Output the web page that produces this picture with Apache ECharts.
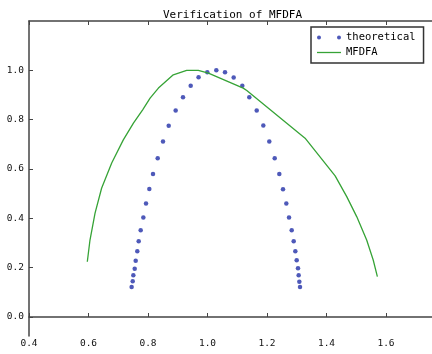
<!DOCTYPE html>
<html>
<head>
<meta charset="utf-8">
<script src="https://cdn.jsdelivr.net/npm/echarts@6/dist/echarts.min.js"></script>
<style>html,body{margin:0;padding:0;background:#fff}#c{width:432px;height:354px}</style>
</head>
<body>
<div id="c"></div>
<script>
const titleText = 'Verification of MFDFA';
const seriesNames = ['theoretical', 'MFDFA'];
const xTicks = [0.4, 0.6, 0.8, 1.0, 1.2, 1.4, 1.6];
const yTicks = [0.0, 0.2, 0.4, 0.6, 0.8, 1.0];

const theoX = [0.745, 0.7486, 0.7507, 0.7553, 0.7586, 0.764, 0.7687, 0.7754, 0.7843, 0.7933, 0.8045, 0.8168, 0.8326, 0.8504, 0.8696, 0.893, 0.9176, 0.9435, 0.970, 0.9993, 1.0296, 1.0588, 1.088, 1.117, 1.1405, 1.1654, 1.1876, 1.2077, 1.2259, 1.2414, 1.2538, 1.2649, 1.274, 1.283, 1.2897, 1.2952, 1.2998, 1.3042, 1.3064, 1.3087, 1.311];
const theoY = [0.1217, 0.1448, 0.169, 0.196, 0.2285, 0.2665, 0.307, 0.3517, 0.403, 0.46, 0.519, 0.58, 0.6438, 0.711, 0.775, 0.837, 0.891, 0.937, 0.9724, 0.9926, 1.0008, 0.9926, 0.971, 0.937, 0.891, 0.837, 0.776, 0.711, 0.644, 0.58, 0.518, 0.46, 0.403, 0.3517, 0.307, 0.2665, 0.23, 0.1975, 0.169, 0.1432, 0.1217];

const mfX = [0.596, 0.605, 0.622, 0.644, 0.678, 0.717, 0.751, 0.782, 0.807, 0.835, 0.885, 0.930, 0.969, 1.003, 1.12, 1.132, 1.328, 1.429, 1.468, 1.5015, 1.535, 1.557, 1.571];
const mfY = [0.224, 0.312, 0.421, 0.522, 0.624, 0.718, 0.786, 0.840, 0.887, 0.928, 0.982, 1.0, 1.0, 0.989, 0.928, 0.918, 0.725, 0.572, 0.488, 0.407, 0.312, 0.231, 0.164];

const FONT = 'DejaVu Sans Mono';
const AX = '#444';
const chart = echarts.init(document.getElementById('c'), null, {renderer: 'canvas'});
const fmt = v => Number(v).toFixed(1);
chart.setOption({
  animation: false,
  backgroundColor: '#fff',
  title: {
    text: titleText, left: 158, top: 5,
    textStyle: {fontFamily: FONT, fontSize: 11, fontWeight: 'normal', color: '#000'}
  },
  legend: {
    orient: 'vertical', left: 311, top: 27,
    padding: [5, 8, 5, 6],
    itemWidth: 24, itemHeight: 12, itemGap: 4, itemTextGap: 16,
    borderColor: '#333', borderWidth: 1.5, borderRadius: 0,
    backgroundColor: '#fff',
    textStyle: {fontFamily: FONT, fontSize: 10.5, color: '#000'},
    data: [
      {name: seriesNames[0], icon: 'path://M0,2a2,2 0 1,0 4,0a2,2 0 1,0 -4,0ZM20,2a2,2 0 1,0 4,0a2,2 0 1,0 -4,0Z'},
      {name: seriesNames[1], icon: 'path://M0,0H24V1.3H0Z'}
    ]
  },
  grid: {left: 29, top: 21, right: 0, bottom: 18, containLabel: false},
  xAxis: [{
    type: 'value', min: 0.4, max: 1.7546,
    axisLine: {show: true, lineStyle: {color: AX, width: 1.5}},
    axisTick: {show: true, inside: true, length: 4, customValues: xTicks, lineStyle: {color: AX}},
    axisLabel: {customValues: xTicks, formatter: fmt, margin: 3, fontFamily: FONT, fontSize: 9.5, color: '#111'},
    splitLine: {show: false}
  }, {
    type: 'value', position: 'top', min: 0.4, max: 1.7546,
    axisLine: {show: true, lineStyle: {color: AX, width: 1.5}},
    axisTick: {show: true, inside: true, length: 4, customValues: xTicks, lineStyle: {color: AX}},
    axisLabel: {show: false},
    splitLine: {show: false}
  }],
  yAxis: {
    type: 'value', min: -0.077, max: 1.2,
    axisLine: {show: true, lineStyle: {color: AX, width: 1.5}},
    axisTick: {show: true, inside: true, length: 4, customValues: yTicks, lineStyle: {color: AX}},
    axisLabel: {customValues: yTicks, formatter: fmt, margin: 5, fontFamily: FONT, fontSize: 9.5, color: '#111'},
    splitLine: {show: false}
  },
  series: [{
    name: seriesNames[0], type: 'scatter',
    data: theoX.map((x, i) => [x, theoY[i]]),
    symbol: 'circle', symbolSize: 4.5,
    itemStyle: {color: '#2230a8'}
  }, {
    name: seriesNames[1], type: 'line',
    data: mfX.map((x, i) => [x, mfY[i]]),
    symbol: 'none', showSymbol: false,
    lineStyle: {color: '#36a336', width: 1.3},
    itemStyle: {color: '#36a336'}
  }]
});
</script>
</body>
</html>
